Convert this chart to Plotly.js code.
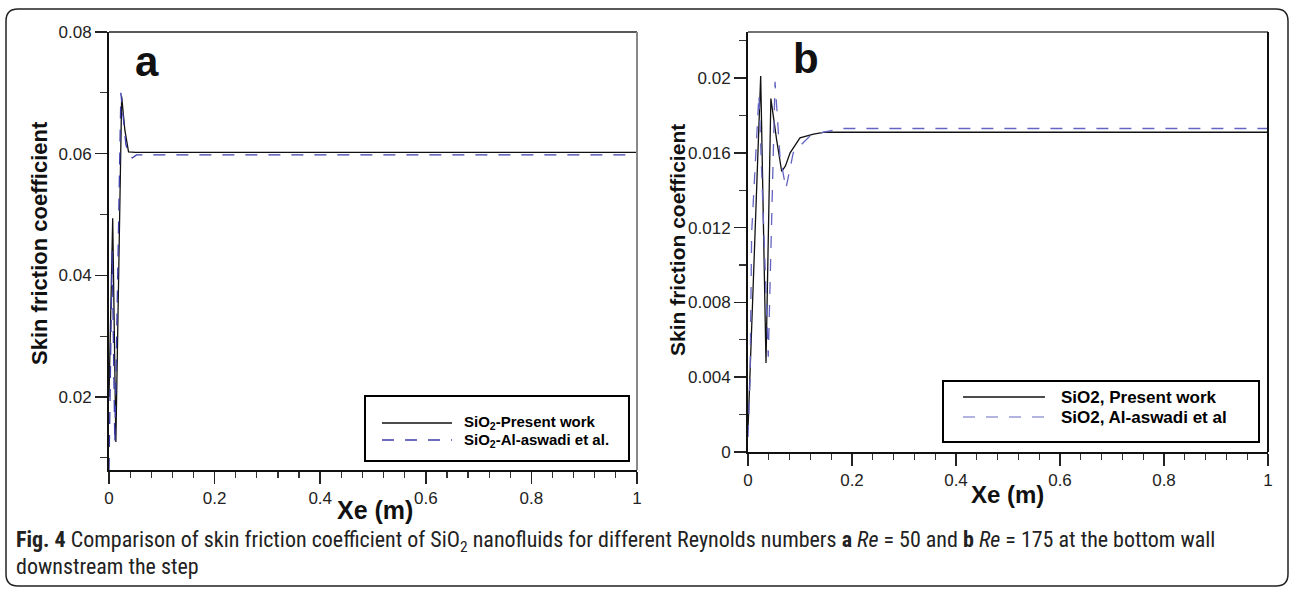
<!DOCTYPE html>
<html>
<head>
<meta charset="utf-8">
<script src="https://cdn.plot.ly/plotly-3.0.1.min.js"></script>
<style>
  html, body { margin: 0; padding: 0; background: #fff; }
  #chart { width: 1292px; height: 592px; }
</style>
</head>
<body>
<div id="chart"></div>
<script>
// ---- Panel a (Re = 50) ----
const xA_present = [0, 0.007, 0.013, 0.024, 0.030, 0.037, 0.050, 1.0];
const yA_present = [0.020, 0.0494, 0.0126, 0.0694, 0.0639, 0.0603, 0.0602, 0.0602];
const xA_alaswadi = [0, 0.006, 0.011, 0.0225, 0.027, 0.032, 0.038, 0.044, 0.052, 1.0];
const yA_alaswadi = [0.008, 0.044, 0.0124, 0.0700, 0.0660, 0.0615, 0.0598, 0.0593, 0.0598, 0.0598];

// ---- Panel b (Re = 175) ----
const xB_present = [0, 0.0244, 0.0346, 0.044, 0.055, 0.0648, 0.072, 0.081, 0.100, 0.126, 0.148, 1.0];
const yB_present = [0.0012, 0.0201, 0.00476, 0.0189, 0.0167, 0.0150, 0.0153, 0.0160, 0.0168, 0.0170, 0.0171, 0.0171];
const xB_alaswadi = [0, 0.004, 0.007, 0.021, 0.039, 0.052, 0.0615, 0.073, 0.087, 0.119, 0.145, 0.183, 1.0];
const yB_alaswadi = [0.0008, 0.0039, 0.0117, 0.0191, 0.0051, 0.0198, 0.0158, 0.0141, 0.0160, 0.0169, 0.0171, 0.0173, 0.0173];

// ---- Text ----
const legendA = ["SiO<sub>2</sub>-Present work", "SiO<sub>2</sub>-Al-aswadi et al."];
const legendB = ["SiO2, Present work", "SiO2, Al-aswadi et al"];
const xTitle = "Xe (m)";
const yTitle = "Skin friction coefficient";
const caption1 = "<b>Fig. 4</b> Comparison of skin friction coefficient of SiO<sub>2</sub> nanofluids for different Reynolds numbers <b>a</b> <i>Re</i> = 50 and <b>b</b> <i>Re</i> = 175 at the bottom wall";
const caption2 = "downstream the step";

const W = 1292, H = 592;
const PX = p => p / W;
const PY = p => 1 - p / H;

const BLACK = "#111111";
const BLUE_A = "#3c3cac";
const BLUE_B = "#6464c2";

const traces = [
  {x: xA_present, y: yA_present, xaxis: "x", yaxis: "y", mode: "lines",
   line: {color: BLACK, width: 1.3}, name: "SiO2-Present work", showlegend: false},
  {x: xA_alaswadi, y: yA_alaswadi, xaxis: "x", yaxis: "y", mode: "lines",
   line: {color: BLUE_A, width: 1.3, dash: "12px,11px"}, name: "SiO2-Al-aswadi et al.", showlegend: false},
  {x: xB_present, y: yB_present, xaxis: "x2", yaxis: "y2", mode: "lines",
   line: {color: BLACK, width: 1.3}, name: "SiO2, Present work", showlegend: false},
  {x: xB_alaswadi, y: yB_alaswadi, xaxis: "x2", yaxis: "y2", mode: "lines",
   line: {color: BLUE_B, width: 1.3, dash: "12px,11px"}, name: "SiO2, Al-aswadi et al", showlegend: false}
];

const tickFont = {family: "Liberation Sans, Arial, sans-serif", size: 17, color: "#222"};
const xCommon = {
  range: [0, 1], tick0: 0, dtick: 0.2, ticks: "outside", ticklen: 12, tickwidth: 1.5,
  tickcolor: "#222", showline: true, linecolor: "#111", linewidth: 2, showgrid: false,
  zeroline: false, tickfont: tickFont,
  minor: {dtick: 0.04, ticks: "outside", ticklen: 6, tickwidth: 1.2, tickcolor: "#333", showgrid: false}
};

const layout = {
  width: W, height: H,
  margin: {l: 0, r: 0, t: 0, b: 0},
  paper_bgcolor: "#fff", plot_bgcolor: "#fff",
  showlegend: false,
  xaxis: Object.assign({}, xCommon, {domain: [PX(109), PX(637)], anchor: "y"}),
  yaxis: {
    domain: [PY(470), PY(32)], anchor: "x", range: [0.008, 0.08], tick0: 0, dtick: 0.02,
    ticks: "outside", ticklen: 12, tickwidth: 1.5, tickcolor: "#222",
    showline: true, linecolor: "#111", linewidth: 2, showgrid: false, zeroline: false,
    tickfont: tickFont,
    minor: {dtick: 0.01, ticks: "outside", ticklen: 7, tickwidth: 1.2, tickcolor: "#333", showgrid: false}
  },
  xaxis2: Object.assign({}, xCommon, {domain: [PX(748), PX(1268)], anchor: "y2"}),
  yaxis2: {
    domain: [PY(452), PY(32)], anchor: "x2", range: [0, 0.02246], tick0: 0, dtick: 0.004,
    ticks: "outside", ticklen: 12, tickwidth: 1.5, tickcolor: "#222",
    showline: true, linecolor: "#111", linewidth: 2, showgrid: false, zeroline: false,
    tickfont: tickFont,
    minor: {dtick: 0.002, ticks: "outside", ticklen: 7, tickwidth: 1.2, tickcolor: "#333", showgrid: false}
  },
  shapes: [],
  annotations: []
};

// Frame lines (top / right) of each panel
layout.shapes.push(
  {type: "line", xref: "x domain", yref: "y domain", x0: 0, x1: 1, y0: 1, y1: 1, line: {color: "#222", width: 1.5}},
  {type: "line", xref: "x domain", yref: "y domain", x0: 1, x1: 1, y0: 0, y1: 1, line: {color: "#888", width: 2}},
  {type: "line", xref: "x2 domain", yref: "y2 domain", x0: 0, x1: 1, y0: 1, y1: 1, line: {color: "#444", width: 1.5}},
  {type: "line", xref: "x2 domain", yref: "y2 domain", x0: 1, x1: 1, y0: 0, y1: 1, line: {color: "#111", width: 2}}
);

// Outer rounded border
(function () {
  const l = 6, t = 9, r = 1288, b = 586, rad = 12;
  const path = [
    "M", PX(l + rad), PY(t), "L", PX(r - rad), PY(t),
    "Q", PX(r), PY(t), PX(r), PY(t + rad),
    "L", PX(r), PY(b - rad),
    "Q", PX(r), PY(b), PX(r - rad), PY(b),
    "L", PX(l + rad), PY(b),
    "Q", PX(l), PY(b), PX(l), PY(b - rad),
    "L", PX(l), PY(t + rad),
    "Q", PX(l), PY(t), PX(l + rad), PY(t), "Z"
  ].join(" ");
  layout.shapes.push({type: "path", xref: "paper", yref: "paper", path: path,
    line: {color: "#222", width: 1.5}, fillcolor: "rgba(0,0,0,0)", layer: "below"});
})();

// Legend boxes (drawn manually)
function legendBox(box, lines, texts, colors, fontSize) {
  layout.shapes.push({type: "rect", xref: "paper", yref: "paper",
    x0: PX(box.l), x1: PX(box.r), y0: PY(box.b), y1: PY(box.t),
    line: {color: "#000", width: 2}, fillcolor: "#fff"});
  lines.forEach((ln, i) => {
    layout.shapes.push({type: "line", xref: "paper", yref: "paper",
      x0: PX(ln.x0), x1: PX(ln.x1), y0: PY(ln.y), y1: PY(ln.y),
      line: {color: colors[i], width: 1.3, dash: i === 0 ? "solid" : "12px,11px"}});
    layout.annotations.push({xref: "paper", yref: "paper", x: PX(ln.tx), y: PY(ln.y),
      xanchor: "left", yanchor: "middle", showarrow: false, text: "<b>" + texts[i] + "</b>",
      font: {family: "Liberation Sans, Arial, sans-serif", size: fontSize, color: "#000"}});
  });
}
legendBox({l: 365, r: 629, t: 396, b: 461},
  [{x0: 382, x1: 452, y: 423, tx: 462}, {x0: 382, x1: 452, y: 440, tx: 462}],
  legendA, [BLACK, BLUE_A], 15);
legendBox({l: 943, r: 1259, t: 381, b: 442},
  [{x0: 963, x1: 1045, y: 397, tx: 1059}, {x0: 963, x1: 1045, y: 417, tx: 1059}],
  legendB, [BLACK, "#9a9ad8"], 17);

// Panel letters
const boldFont = (s) => ({family: "Liberation Sans, Arial, sans-serif", size: s, color: "#111"});
layout.annotations.push(
  {xref: "paper", yref: "paper", x: PX(147), y: PY(62), text: "<b>a</b>", showarrow: false,
   xanchor: "center", yanchor: "middle", font: boldFont(42)},
  {xref: "paper", yref: "paper", x: PX(806), y: PY(58), text: "<b>b</b>", showarrow: false,
   xanchor: "center", yanchor: "middle", font: boldFont(42)}
);

// Axis titles
layout.annotations.push(
  {xref: "paper", yref: "paper", x: PX(375), y: PY(510), text: "<b>" + xTitle + "</b>", showarrow: false,
   xanchor: "center", yanchor: "middle", font: boldFont(25)},
  {xref: "paper", yref: "paper", x: PX(1007), y: PY(494), text: "<b>" + xTitle + "</b>", showarrow: false,
   xanchor: "center", yanchor: "middle", font: boldFont(24)},
  {xref: "paper", yref: "paper", x: PX(39), y: PY(243), text: "<b>" + yTitle + "</b>", showarrow: false,
   textangle: -90, xanchor: "center", yanchor: "middle", font: boldFont(22)},
  {xref: "paper", yref: "paper", x: PX(677), y: PY(240), text: "<b>" + yTitle + "</b>", showarrow: false,
   textangle: -90, xanchor: "center", yanchor: "middle", font: boldFont(21)}
);

// Caption
const capFont = {family: "Liberation Sans Narrow, Roboto Condensed, Arial Narrow, sans-serif", size: 22, color: "#222"};
layout.annotations.push(
  {xref: "paper", yref: "paper", x: PX(14), y: PY(541), text: caption1, showarrow: false,
   xanchor: "left", yanchor: "middle", font: capFont},
  {xref: "paper", yref: "paper", x: PX(14), y: PY(566), text: caption2, showarrow: false,
   xanchor: "left", yanchor: "middle", font: capFont}
);

Plotly.newPlot("chart", traces, layout, {staticPlot: true, displayModeBar: false});
</script>
</body>
</html>
